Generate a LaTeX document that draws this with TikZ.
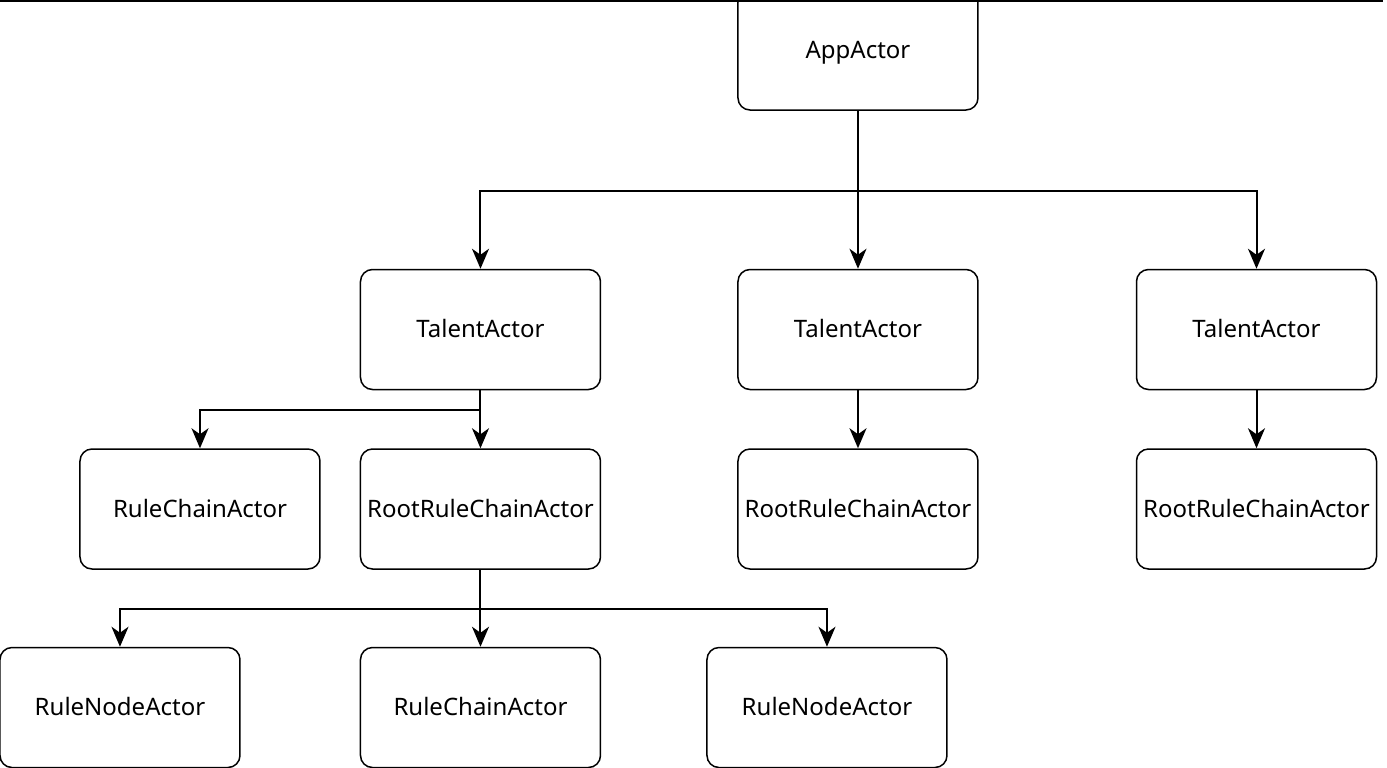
\documentclass[tikz,border=0pt]{standalone}
\usepackage{fontspec}
\setmainfont{Noto Sans}
\usetikzlibrary{arrows.meta, positioning}

\begin{document}
\begin{tikzpicture}[node distance=30pt,
  every node/.style={font=\fontsize{12}{14}\selectfont},
  actor/.style={draw, rounded corners=6pt, line width=0.75pt, minimum width=120pt, minimum height=60pt, inner sep=0pt, text height=0.8em, text depth=0em},
  arr/.style={-{Stealth[length=10pt, width=8.5pt, inset=3pt]}, line width=1pt}]
\useasboundingbox (-429pt,25pt) rectangle (264.5pt,-358.5pt);
\draw[line width=1pt] (-429pt,24.4pt) -- (262.5pt,24.4pt);

\node[actor] (app) at (0,0) {AppActor};
\node[actor, below=79pt of app] (talent2) {TalentActor};
\node[actor, left=68pt of talent2] (talent1) {TalentActor};
\node[actor, right=78.5pt of talent2] (talent3) {TalentActor};
\node[actor, below=29pt of talent1] (root1) {RootRuleChainActor};
\node[actor, below=29pt of talent2] (root2) {RootRuleChainActor};
\node[actor, below=29pt of talent3] (root3) {RootRuleChainActor};
\node[actor, left=19.5pt of root1] (chain1) {RuleChainActor};
\node[actor, below=38.5pt of root1] (chain2) {RuleChainActor};
\node[actor, left=59.5pt of chain2] (ruleA) {RuleNodeActor};
\node[actor, right=52.5pt of chain2] (ruleB) {RuleNodeActor};

\draw[arr] (app) -- (talent2);
\draw[arr] (app.south) -- ++(0,-40pt) -| (talent1.north);
\draw[arr] (app.south) -- ++(0,-40pt) -| (talent3.north);
\draw[arr] (talent1) -- (root1);
\draw[arr] (talent1.south) -- ++(0,-10pt) -| (chain1.north);
\draw[arr] (talent2) -- (root2);
\draw[arr] (talent3) -- (root3);
\draw[arr] (root1) -- (chain2);
\draw[arr] (root1.south) -- ++(0,-19.5pt) -| (ruleA.north);
\draw[arr] (root1.south) -- ++(0,-19.5pt) -| (ruleB.north);
\end{tikzpicture}
\end{document}
